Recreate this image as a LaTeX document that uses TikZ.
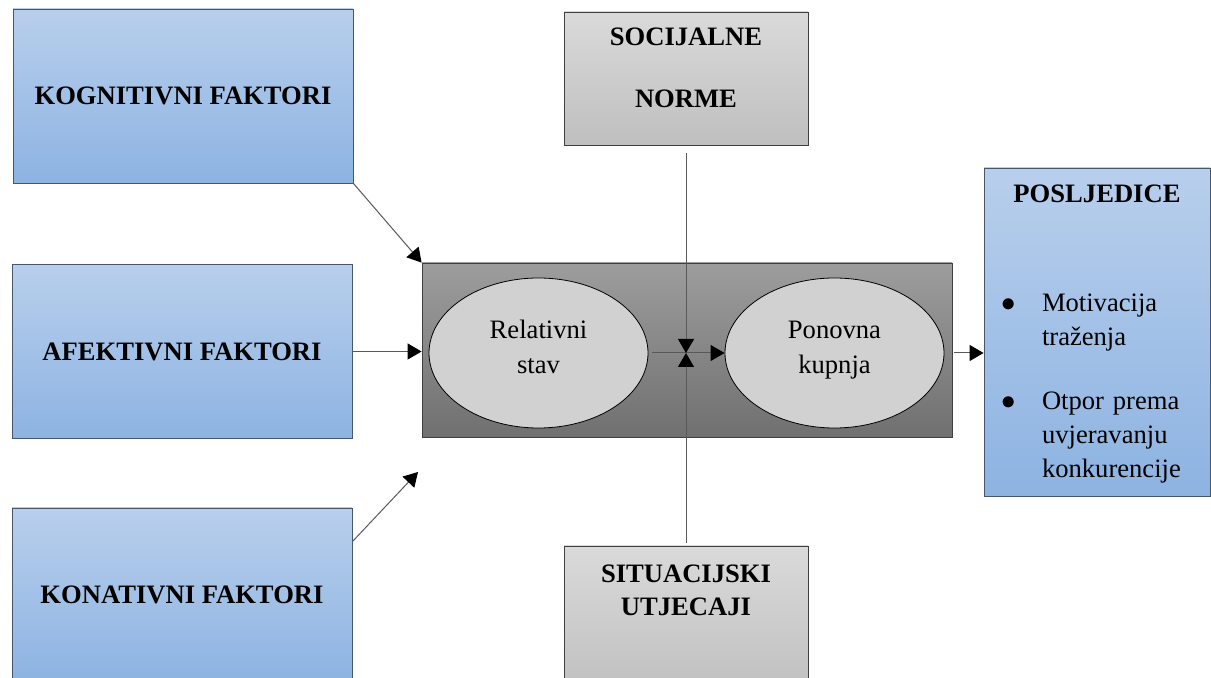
\documentclass[tikz,border=0pt]{standalone}
\usepackage{fontspec}
\setmainfont{Liberation Serif}
\usepackage{tikz}
\usetikzlibrary{arrows.meta,shapes.geometric}

\definecolor{blueTop}{HTML}{B8CFEC}
\definecolor{blueBot}{HTML}{8DB3E2}
\definecolor{blueLine}{HTML}{46566C}
\definecolor{greyTop}{HTML}{DADADA}
\definecolor{greyBot}{HTML}{BFBFBF}
\definecolor{greyLine}{HTML}{404040}
\definecolor{midTop}{HTML}{9D9D9D}
\definecolor{midBot}{HTML}{707070}
\definecolor{ovalFill}{HTML}{D1D1D1}
\definecolor{lineGrey}{HTML}{595959}

\begin{document}
\begin{tikzpicture}[x=0.5pt,y=-0.5pt,
	faktor/.style={rectangle,draw=blueLine,top color=blueTop,bottom color=blueBot,
		minimum width=170pt,minimum height=87pt,font=\fontsize{13.3}{17}\selectfont\bfseries},
	utjecaj/.style={rectangle,draw=greyLine,top color=greyTop,bottom color=greyBot,
		text width=122pt,inner sep=0pt,align=center,font=\fontsize{13.3}{17}\selectfont\bfseries},
	oval/.style={ellipse,draw=black,fill=ovalFill,minimum width=109.5pt,minimum height=75pt,
		inner sep=0pt,text width=70pt,text height=10pt,text depth=24pt,align=center,
		font=\fontsize{13.3}{17.5}\selectfont}]
	\useasboundingbox (0,0) rectangle (1211,678);

	\begin{scope}
	    \node[faktor] (kog) at (183,96) {KOGNITIVNI FAKTORI};
	    \node[faktor] (afe) at (182,351.5) {AFEKTIVNI FAKTORI};
	    \node[faktor] (kon) at (182,595) {KONATIVNI FAKTORI};
	    \node[utjecaj,text height=17pt,text depth=49.5pt] (soc) at (686,78.5) {SOCIJALNE\\[14pt]NORME};
	    \node[utjecaj,text height=18pt,text depth=57pt] (sit) at (686,621) {SITUACIJSKI\\UTJECAJI};
	    \node[rectangle,draw=greyLine,top color=midTop,bottom color=midBot,
	          minimum width=265pt,minimum height=87pt] (mid) at (687,350) {};
	    \node[oval] (stav) at (538.5,353) {Relativni\\stav};
	    \node[oval] (kup) at (834.5,353) {Ponovna\\kupnja};
	    \node[rectangle,draw=blueLine,top color=blueTop,bottom color=blueBot,
	          text width=113pt,inner sep=0pt,text height=17.5pt,text depth=146.5pt,
	          font=\fontsize{13.3}{17}\selectfont] (pos) at (1097,332)
	          {\centering\textbf{POSLJEDICE}\par
	           \vspace{37.5pt}
	           \raggedright\leftskip=29pt
	           \leavevmode\llap{$\bullet$\hspace{13pt}}Motivacija\par
	           traženja\par
	           \vspace{15pt}
	           \leavevmode\llap{$\bullet$\hspace{13pt}}Otpor prema\par
	           uvjeravanju\par
	           konkurencije\par};
	\end{scope}

	\coordinate (konkraj) at (418,472);
	\coordinate (presjek) at (686,353);

	\begin{scope}[>={Triangle[black,length=7pt,width=8pt]},
	              every edge/.style={draw=lineGrey,line width=0.5pt}]
	    \path (kog.south east) edge[->] (mid.north west);
	    \path (afe.east) edge[->] (afe.east -| mid.west);
	    \path ([yshift=-17pt]kon.north east) edge[->] (konkraj);
	    \path (stav.east) edge[->,shorten <=2pt] (kup.west);
	    \path (soc.south) edge[->,shorten <=4pt] (presjek);
	    \path (sit.north) edge[->,shorten <=1.5pt] (presjek);
	    \path (mid.east |- presjek) edge[->,shorten <=1pt] (pos.west |- presjek);
	\end{scope}
\end{tikzpicture}
\end{document}
